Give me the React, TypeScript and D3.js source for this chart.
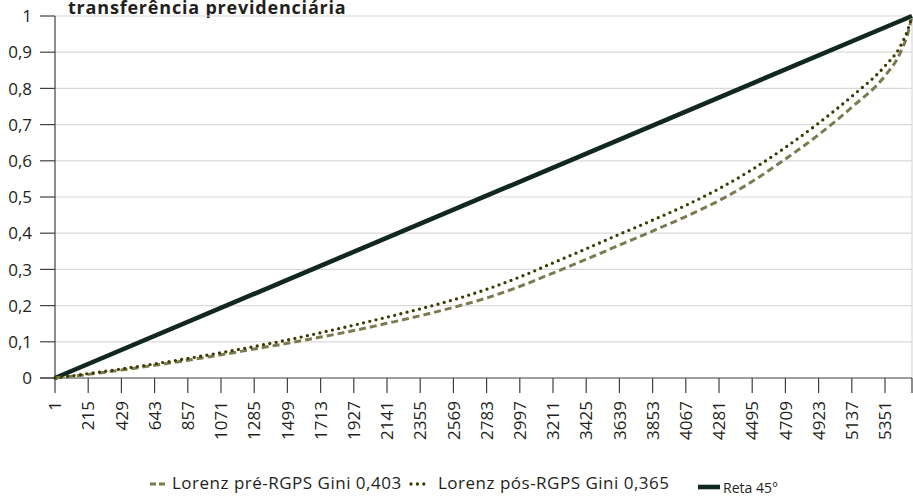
import React from 'react';
import * as d3 from 'd3';

const TITLE = 'transferência previdenciária';
const N_TOTAL = 5525;
const tickLabels = [1, 215, 429, 643, 857, 1071, 1285, 1499, 1713, 1927, 2141, 2355, 2569, 2783, 2997, 3211, 3425, 3639, 3853, 4067, 4281, 4495, 4709, 4923, 5137, 5351];
const popIndex = [1, 215, 429, 643, 857, 1071, 1285, 1499, 1713, 1927, 2141, 2355, 2569, 2783, 2997, 3211, 3425, 3639, 3853, 4067, 4281, 4495, 4709, 4923, 5137, 5351, 5448, 5500, 5525];
const lorenzPre = [0, 0.010, 0.022, 0.035, 0.049, 0.064, 0.080, 0.096, 0.113, 0.131, 0.151, 0.172, 0.195, 0.221, 0.253, 0.290, 0.328, 0.367, 0.406, 0.446, 0.490, 0.543, 0.605, 0.672, 0.748, 0.835, 0.897, 0.955, 1];
const lorenzPos = [0, 0.012, 0.025, 0.039, 0.054, 0.070, 0.087, 0.105, 0.125, 0.146, 0.168, 0.191, 0.216, 0.245, 0.279, 0.318, 0.357, 0.397, 0.436, 0.477, 0.523, 0.576, 0.637, 0.704, 0.778, 0.862, 0.915, 0.965, 1];
const retaIndex = [1, 5525];
const retaValues = [0, 1];
const yTicks = [0, 0.1, 0.2, 0.3, 0.4, 0.5, 0.6, 0.7, 0.8, 0.9, 1];
const legendLabels = ['Lorenz pré-RGPS Gini 0,403', 'Lorenz pós-RGPS Gini 0,365', 'Reta 45°'];

const FONT = '"Open Sans", "Noto Sans", sans-serif';
const TEXT = '#231f20';
const C_PRE = '#7b7b4f';
const C_POS = '#3c3c00';
const C_RETA = '#10281f';

export default function App() {
  const W = 913, H = 497;
  const left = 55, right = 912, top = 16, bottom = 378;
  const x = d3.scaleLinear().domain([1, N_TOTAL]).range([left, right]);
  const y = d3.scaleLinear().domain([0, 1]).range([bottom, top]);
  const line = d3.line<[number, number]>().x(d => x(d[0])).y(d => y(d[1])).curve(d3.curveMonotoneX);
  const pre = line(popIndex.map((p, i) => [p, lorenzPre[i]] as [number, number]))!;
  const pos = line(popIndex.map((p, i) => [p, lorenzPos[i]] as [number, number]))!;
  const ret = d3.line<[number, number]>().x(d => x(d[0])).y(d => y(d[1]))(retaIndex.map((p, i) => [p, retaValues[i]] as [number, number]))!;
  const fmt = (v: number) => (v === 0 || v === 1 ? String(v) : d3.format('.1f')(v).replace('.', ','));
  const xTickPos = [...tickLabels, N_TOTAL];
  const FS = 17;

  return (
    <svg width={W} height={H} style={{ position: 'absolute', left: 0, top: 0, background: '#fff' }} fontFamily={FONT}>
      <text x={68} y={14} fontSize={18} fontWeight={700} letterSpacing={0.8} fill={TEXT}>{TITLE}</text>
      {yTicks.filter(v => v > 0).map(v => (
        <line key={'g' + v} x1={left} x2={right} y1={y(v)} y2={y(v)} stroke="#d9d9d9" strokeWidth={1.2} />
      ))}
      <line x1={right} x2={right} y1={top} y2={bottom} stroke="#d9d9d9" strokeWidth={1.2} />
      {yTicks.map(v => (
        <g key={'y' + v}>
          <line x1={40} x2={left} y1={y(v)} y2={y(v)} stroke="#404040" strokeWidth={1.2} />
          <text x={32} y={y(v)} dy="0.36em" textAnchor="end" fontSize={FS} fill={TEXT}>{fmt(v)}</text>
        </g>
      ))}
      <line x1={left} x2={left} y1={top} y2={bottom} stroke="#404040" strokeWidth={1.2} />
      <line x1={40} x2={right} y1={bottom} y2={bottom} stroke="#404040" strokeWidth={1.2} />
      {xTickPos.map((t, i) => (
        <line key={'xt' + i} x1={x(t)} x2={x(t)} y1={bottom} y2={bottom + 15} stroke="#404040" strokeWidth={1.2} />
      ))}
      {tickLabels.map(t => (
        <text key={'xl' + t} transform={`translate(${x(t)},401) rotate(-90)`} textAnchor="end" dy="0.36em" fontSize={FS} fill={TEXT}>{t}</text>
      ))}
      <path d={ret} fill="none" stroke={C_RETA} strokeWidth={4.6} />
      <path d={pre} fill="none" stroke={C_PRE} strokeWidth={3} strokeDasharray="7 4" />
      <path d={pos} fill="none" stroke={C_POS} strokeWidth={3.3} strokeDasharray="0 6.4" strokeLinecap="round" />
      {/* legend */}
      <line x1={150} x2={167} y1={484} y2={484} stroke={C_PRE} strokeWidth={3} strokeDasharray="6 3" />
      <text x={172} y={489} fontSize={FS} letterSpacing={0.5} fill={TEXT}>{legendLabels[0]}</text>
      <line x1={411} x2={428} y1={484} y2={484} stroke={C_POS} strokeWidth={3.3} strokeDasharray="0 6.4" strokeLinecap="round" />
      <text x={438} y={489} fontSize={FS} letterSpacing={0.5} fill={TEXT}>{legendLabels[1]}</text>
      <line x1={698} x2={720} y1={487} y2={487} stroke={C_RETA} strokeWidth={4.6} />
      <text x={723} y={493} fontSize={14} fill={TEXT}>{legendLabels[2]}</text>
    </svg>
  );
}
